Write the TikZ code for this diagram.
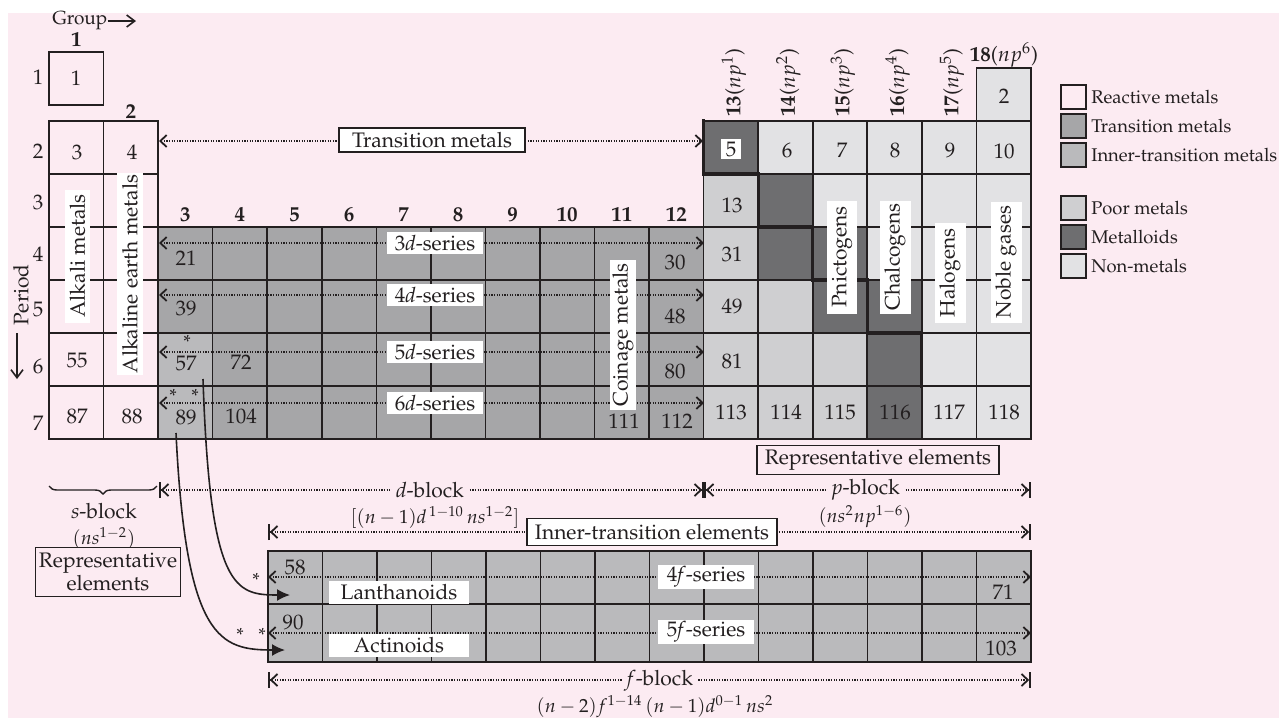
\documentclass[tikz,border=0pt]{standalone}
\usepackage[T1]{fontenc}
\usepackage{mathpazo}
\usepackage{tikz}
\usetikzlibrary{arrows.meta,positioning,decorations.pathreplacing}

\definecolor{bgpink}{RGB}{252,235,242}
\definecolor{edge}{RGB}{35,31,32}
\definecolor{tm}{RGB}{166,166,168}
\definecolor{itm}{RGB}{186,186,188}
\definecolor{poor}{RGB}{207,207,209}
\definecolor{mld}{RGB}{110,110,112}
\definecolor{non}{RGB}{226,226,228}

\begin{document}
\begin{tikzpicture}[
  x=0.5pt, y=-0.5pt,
  font=\fontsize{10.5}{12}\selectfont,
  every node/.style={text=edge},
  cell/.style={draw=edge, line width=0.8pt, minimum width=27.27pt,
    minimum height=26.5pt, inner sep=0pt, outer sep=0pt},
  num/.style={inner sep=0pt},
  grplab/.style={inner sep=0pt, font=\fontsize{10.5}{12}\selectfont\bfseries},
  star/.style={inner sep=0pt, font=\fontsize{9.5}{11}\selectfont},
  stair/.style={draw=edge, line width=1.6pt, line cap=rect},
  labbox/.style={draw=edge, line width=0.75pt, fill=white, inner xsep=4pt,
    inner ysep=1pt, minimum height=12pt},
  serlab/.style={fill=white, inner xsep=3pt, inner ysep=1pt,
    minimum width=48pt, minimum height=11pt},
  vlab/.style={fill=white, rotate=90, inner sep=1pt},
  blklab/.style={fill=bgpink, inner xsep=2pt, inner ysep=0pt},
  formula/.style={inner sep=0pt, font=\fontsize{9.5}{11}\selectfont},
  dimline/.style={draw=edge, line width=0.6pt, dash pattern=on 0.6pt off 0.7pt},
  dimboth/.style={{Straight Barb[length=3.2pt,width=6pt,line width=0.9pt]}-{Straight Barb[length=3.2pt,width=6pt,line width=0.9pt]}},
  dimbar/.style={{Bar[width=8pt,line width=0.9pt]Straight Barb[length=3.2pt,width=6pt,line width=0.9pt]}-{Straight Barb[length=3.2pt,width=6pt,line width=0.9pt]Bar[width=8pt,line width=0.9pt]}},
  solidarr/.style={draw=edge, line width=0.8pt, -{Straight Barb[length=4pt,width=6pt,line width=0.8pt]}},
  curvarr/.style={draw=edge, line width=0.8pt, -{Latex[length=6.5pt,width=6pt]}},
  brace/.style={draw=edge, line width=0.7pt, decorate,
    decoration={brace, mirror, amplitude=4pt}},
  legbox/.style={draw=edge, line width=0.9pt, minimum width=12.5pt,
    minimum height=12pt, inner sep=0pt},
  legtxt/.style={inner sep=0pt, font=\fontsize{9.2}{11}\selectfont}
]
  \useasboundingbox (0,0) rectangle (1279,718);
  \fill[bgpink] (8,13) rectangle (1279,718);

  %% s-block cells
  \node[cell] (e1-1) at (76.3,78.5) {};
  \foreach \r in {2,...,7}
    \foreach \c in {1,2}
      \node[cell] (e\r-\c) at ({49+(\c-0.5)*54.55},{121+(\r-1.5)*53}) {};

  %% d-block cells
  \foreach \r/\k in {4/tm,5/tm,6/itm,7/itm}
    \node[cell, fill=\k] (e\r-3) at (185.4,{121+(\r-1.5)*53}) {};
  \foreach \r in {4,...,7}
    \foreach \c in {4,...,12}
      \node[cell, fill=tm] (e\r-\c) at ({49+(\c-0.5)*54.55},{121+(\r-1.5)*53}) {};

  %% p-block cells
  \node[cell, fill=non] (e1-18) at (1003.7,94.5) {};
  \foreach \r/\row in {2/{mld,non,non,non,non,non},3/{poor,mld,non,non,non,non},
      4/{poor,mld,mld,non,non,non},5/{poor,poor,mld,mld,non,non},
      6/{poor,poor,poor,mld,non,non},7/{poor,poor,poor,mld,non,non}}
    \foreach \k [count=\c from 13] in \row
      \node[cell, fill=\k] (e\r-\c) at ({49+(\c-0.5)*54.55},{121+(\r-1.5)*53}) {};

  \draw[stair] (e2-13.north west) -- (e2-13.south west) -- (e3-14.north west)
    -- (e3-14.south west) -- (e4-15.north west) -- (e4-15.south west)
    -- (e5-16.north west) -- (e5-16.south west) -- (e6-17.north west)
    -- (e6-17.south west);

  %% group and period labels
  \node[anchor=west, inner sep=0pt, font=\fontsize{9.5}{11}\selectfont] (grp) at (52,21) {Group};
  \coordinate (grpend) at (136,21);
  \draw[solidarr] (grp) -- (grpend);
  \node[grplab] (g1) at (76.3,40) {1};
  \node[grplab] (g2) at (130.8,112) {2};
  \foreach \c in {3,...,12}
    \node[grplab] (g\c) at ({49+(\c-0.5)*54.55},215) {\c};
  \foreach \c/\e in {13/1,14/2,15/3,16/4,17/5}
    \node[grplab, rotate=90, anchor=west] (g\c) at ({52+(\c-0.5)*54.55},117) {\c\mdseries($np^{\e}$)};
  \node[grplab] (g18) at (1004,55) {18\mdseries($np^{6}$)};

  \foreach \p/\y in {1/77,2/151,3/202,4/254,5/309,6/366,7/423}
    \node[num] (per\p) at (38,\y) {\p};
  \node[rotate=90, inner sep=0pt] (per) at (21,295) {Period};
  \coordinate (perstart) at (17,333);
  \coordinate (perend) at (17,379);
  \draw[solidarr] (perstart) -- (perend);

  %% atomic numbers
  \foreach \n/\x/\y in {1/76/78,3/77/152,4/132/152,55/77/360,87/77/416,88/132/416,
      21/186/258,39/186/308,57/186/363,72/241/362,89/186/417,104/241/416,
      30/675/262,48/675/316,80/675/371,111/624/421,112/677/421,
      2/1004/96,6/787/150,7/842/150,8/895/150,9/950/150,10/1004/151,
      13/732/205,31/732/254,49/732/306,81/732/361,
      113/731/412,114/786/412,115/840/412,116/895/412,117/949/412,118/1004/412}
    \node[num] (z\n) at (\x,\y) {\n};
  \node[num, fill=white, minimum size=10pt] (z5) at (731,149) {5};

  %% transition metals
  \coordinate (tmL) at (159,141);
  \coordinate (tmR) at (703,141);
  \draw[dimline, dimboth] (tmL) -- (tmR);
  \node[labbox, minimum width=93pt] (tmbox) at (432,140) {Transition metals};

  \foreach \s/\y in {3/243,4/295,5/352,6/403}{
    \coordinate (sl\s) at (159,\y);
    \coordinate (sr\s) at (704,\y);
    \draw[dimline, dimboth] (sl\s) -- (sr\s);
    \node[serlab] (ser\s) at (435,\y) {\s\textit{d}-series};
  }
  \node[star] (st57) at (187,342) {*};
  \node[star] (st89a) at (173,396) {*};
  \node[star] (st89b) at (195,396) {*};

  %% group names
  \node[vlab, minimum width=66.5pt, minimum height=12.5pt] (alkali) at (77.5,256) {Alkali metals};
  \node[vlab, minimum width=91pt, minimum height=13pt] (alkearth) at (130,274) {Alkaline earth metals};
  \node[vlab, minimum width=75pt, minimum height=12.5pt] (coin) at (623,335) {Coinage metals};
  \node[vlab, minimum width=56.5pt, minimum height=15pt] (pnic) at (842,257) {Pnictogens};
  \node[vlab, minimum width=56.5pt, minimum height=15.5pt] (chal) at (895,257) {Chalcogens};
  \node[vlab, minimum width=50pt, minimum height=15.5pt] (halo) at (950,273) {Halogens};
  \node[vlab, minimum width=60.5pt, minimum height=15.5pt] (noble) at (1006,262) {Noble gases};
  \node[labbox, fill=bgpink, minimum width=121pt, minimum height=14.5pt] (rep2) at (878,460) {Representative elements};

  %% blocks
  \coordinate (sbL) at (49,486);
  \coordinate (sbR) at (157,486);
  \draw[brace] (sbL) -- (sbR);
  \node[inner sep=0pt] (sblk) at (104,511) {\textit{s}-block};
  \node[formula] (sform) at (104,538) {$(ns^{1-2})$};
  \node[labbox, fill=bgpink, align=center, minimum width=72.5pt, minimum height=24.5pt,
    inner sep=1pt, font=\fontsize{10.5}{11.5}\selectfont] (rep1) at (108,572) {Representative\\elements};

  \coordinate (dL) at (159,490);
  \coordinate (dpM) at (704,490);
  \coordinate (pR) at (1031,490);
  \draw[dimline, dimbar] (dL) -- (dpM);
  \draw[dimline, dimbar] (dpM) -- (pR);
  \node[blklab] (dblk) at (430,490) {\textit{d}-block};
  \node[blklab] (pblk) at (866,490) {\textit{p}-block};
  \node[formula] (dform) at (435,517) {$[(n-1)d^{\,1-10}\,ns^{1-2}]$};
  \node[formula] (pform) at (865,517) {$(ns^2np^{1-6})$};

  \coordinate (itL) at (268,532);
  \coordinate (itR) at (1031,532);
  \draw[dimline, dimbar] (itL) -- (itR);
  \node[labbox, minimum width=120.5pt, minimum height=13.5pt] (itbox) at (652,532) {Inner-transition elements};

  %% f-block cells
  \foreach \c in {1,...,14}{
    \node[cell, fill=itm] (la\c) at ({268+(\c-0.5)*54.5},577.5) {};
    \node[cell, fill=itm, minimum height=29pt] (ac\c) at ({268+(\c-0.5)*54.5},633) {};
  }
  \foreach \n/\x/\y in {58/295/567,71/1003/592,90/293/622,103/1001/648}
    \node[num] (z\n) at (\x,\y) {\n};

  \coordinate (lfL) at (268,577);
  \coordinate (lfR) at (1031,577);
  \draw[dimline, dimboth] (lfL) -- (lfR);
  \node[serlab] (ser4f) at (706,577) {4\textit{f}-series};
  \node[serlab, minimum width=70pt, minimum height=11.5pt] (lanth) at (399,592) {Lanthanoids};
  \coordinate (afL) at (268,633);
  \coordinate (afR) at (1031,633);
  \draw[dimline, dimboth] (afL) -- (afR);
  \node[serlab] (ser5f) at (706,632) {5\textit{f}-series};
  \node[serlab, minimum width=70pt, minimum height=11.5pt] (actin) at (399,645) {Actinoids};
  \node[star] (st58) at (256,580) {*};
  \node[star] (st90a) at (240,635) {*};
  \node[star] (st90b) at (262,635) {*};

  \coordinate (from57) at (203,379);
  \coordinate (to58) at (290,595);
  \draw[curvarr] (from57) .. controls (210,590) and (235,595) .. (to58);
  \coordinate (from89) at (176,433);
  \coordinate (to90) at (285,650);
  \draw[curvarr] (from89) .. controls (186,640) and (220,650) .. (to90);

  \coordinate (fL) at (268,680);
  \coordinate (fR) at (1031,680);
  \draw[dimline, dimbar] (fL) -- (fR);
  \node[blklab] (fblk) at (660,681) {\textit{f}-block};
  \node[formula] (fform) at (655,707) {$(n-2)f^{1-14}\,(n-1)d^{0-1}\,ns^2$};

  %% legend
  \node[legbox] (lg1) at (1073.5,97) {};
  \node[legtxt, right=2pt of lg1] (lt1) {Reactive metals};
  \node[legbox, fill=tm] (lg2) at (1073.5,126) {};
  \node[legtxt, right=2pt of lg2] (lt2) {Transition metals};
  \node[legbox, fill=itm] (lg3) at (1073.5,155) {};
  \node[legtxt, right=2pt of lg3] (lt3) {Inner-transition metals};
  \node[legbox, fill=poor] (lg4) at (1073.5,208) {};
  \node[legtxt, right=2pt of lg4] (lt4) {Poor metals};
  \node[legbox, fill=mld] (lg5) at (1073.5,237) {};
  \node[legtxt, right=2pt of lg5] (lt5) {Metalloids};
  \node[legbox, fill=non] (lg6) at (1073.5,266) {};
  \node[legtxt, right=2pt of lg6] (lt6) {Non-metals};
\end{tikzpicture}
\end{document}
